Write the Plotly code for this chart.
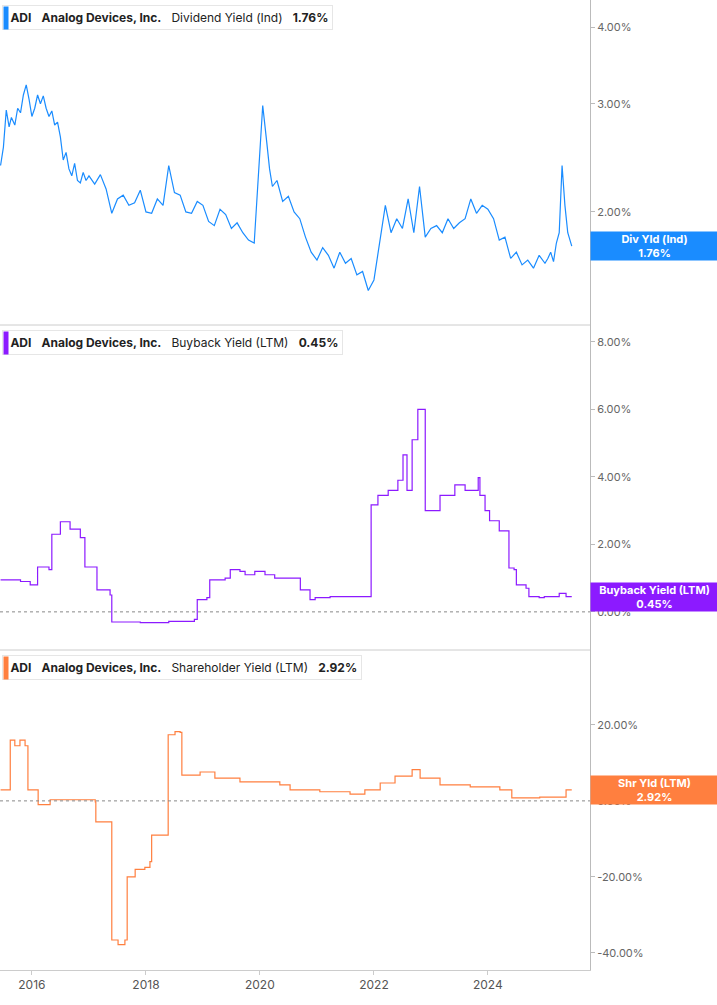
import plotly.graph_objects as go
from plotly.subplots import make_subplots
from datetime import datetime, timedelta

def to_date(y):
    yr = int(y); start = datetime(yr, 1, 1)
    return start + timedelta(days=(y - yr) * 365.25)

# Dividend yield (Ind), %
div_t = [2015.45,2015.5,2015.55,2015.6,2015.64,2015.7,2015.75,2015.8,2015.85,2015.9,2015.95,2016.0,2016.05,2016.1,2016.15,2016.2,2016.25,2016.3,2016.35,2016.4,2016.45,2016.5,2016.55,2016.6,2016.65,2016.7,2016.75,2016.8,2016.85,2016.9,2016.95,2017.0,2017.1,2017.2,2017.3,2017.4,2017.5,2017.6,2017.7,2017.8,2017.9,2018.0,2018.1,2018.2,2018.3,2018.4,2018.5,2018.6,2018.7,2018.8,2018.9,2019.0,2019.1,2019.2,2019.3,2019.4,2019.5,2019.6,2019.7,2019.8,2019.9,2020.0,2020.05,2020.12,2020.17,2020.22,2020.3,2020.4,2020.5,2020.6,2020.7,2020.8,2020.9,2021.0,2021.1,2021.2,2021.3,2021.4,2021.5,2021.6,2021.7,2021.8,2021.9,2022.0,2022.1,2022.2,2022.3,2022.4,2022.5,2022.6,2022.7,2022.8,2022.9,2023.0,2023.1,2023.2,2023.3,2023.4,2023.5,2023.6,2023.7,2023.8,2023.9,2024.0,2024.1,2024.2,2024.3,2024.4,2024.5,2024.6,2024.7,2024.8,2024.9,2025.0,2025.05,2025.1,2025.15,2025.2,2025.25,2025.3,2025.35,2025.4,2025.47]
div_v = [2.38,2.55,2.93,2.75,2.85,2.77,2.95,2.9,3.1,3.22,3.05,2.86,2.95,3.1,3.0,3.09,2.95,2.86,2.92,2.77,2.8,2.65,2.43,2.5,2.35,2.29,2.4,2.25,2.23,2.32,2.25,2.29,2.22,2.3,2.18,1.99,2.1,2.13,2.05,2.07,2.17,2.0,1.99,2.1,2.05,2.38,2.15,2.13,2.0,1.99,2.08,2.05,1.93,1.9,2.02,1.98,1.88,1.92,1.85,1.80,1.78,2.52,2.98,2.6,2.35,2.2,2.25,2.08,2.12,2.0,1.95,1.82,1.72,1.67,1.75,1.7,1.62,1.72,1.65,1.68,1.58,1.6,1.49,1.55,1.78,2.05,1.85,1.95,1.88,2.1,1.85,2.2,1.82,1.88,1.9,1.85,1.95,1.88,1.92,1.95,2.1,1.99,2.05,2.02,1.95,1.8,1.82,1.68,1.72,1.64,1.67,1.62,1.7,1.65,1.68,1.72,1.66,1.78,1.85,2.38,2.05,1.85,1.76]

# Buyback yield (LTM), %
bb_t = [2015.45,2015.8,2015.97,2016.1,2016.3,2016.35,2016.5,2016.67,2016.85,2016.93,2017.1,2017.14,2017.37,2017.4,2017.9,2018.4,2018.85,2018.9,2019.07,2019.12,2019.39,2019.48,2019.65,2019.74,2019.91,2020.09,2020.26,2020.53,2020.71,2020.88,2020.97,2021.23,2021.49,2021.67,2021.9,2021.95,2022.07,2022.25,2022.42,2022.51,2022.58,2022.67,2022.77,2022.84,2022.9,2023.12,2023.16,2023.42,2023.6,2023.83,2023.86,2023.95,2024.03,2024.2,2024.37,2024.46,2024.5,2024.67,2024.72,2024.9,2024.99,2025.25,2025.37,2025.47]
bb_v = [0.95,0.9,0.8,1.33,1.25,2.3,2.67,2.45,2.2,1.33,1.33,0.65,0.5,-0.3,-0.32,-0.28,-0.22,0.36,0.42,0.95,1.0,1.25,1.2,1.1,1.2,1.1,1.0,1.0,0.65,0.36,0.42,0.45,0.45,0.45,0.45,3.17,3.45,3.6,3.9,4.65,3.6,5.1,6.0,6.0,3.0,3.0,3.45,3.76,3.6,3.98,3.45,3.0,2.7,2.4,1.3,1.25,0.8,0.7,0.45,0.42,0.45,0.55,0.45,0.45]

# Shareholder yield (LTM), %
sh_t = [2015.45,2015.58,2015.62,2015.7,2015.79,2015.88,2015.93,2016.05,2016.11,2016.32,2016.85,2017.11,2017.12,2017.37,2017.4,2017.51,2017.63,2017.67,2017.81,2017.98,2018.07,2018.1,2018.33,2018.39,2018.51,2018.6,2018.63,2018.95,2019.21,2019.65,2020.0,2020.35,2020.53,2021.05,2021.58,2021.84,2022.11,2022.37,2022.67,2022.81,2023.16,2023.69,2024.21,2024.42,2024.91,2025.33,2025.37,2025.47]
sh_v = [2.9,2.9,16.0,14.5,16.0,14.5,2.9,2.9,-1.0,0.3,0.3,-0.3,-5.5,-5.5,-36.6,-37.8,-36.6,-20.0,-18.0,-17.5,-16.0,-9.0,-9.0,17.4,18.2,18.0,6.8,7.6,6.0,5.0,5.0,4.2,2.9,2.4,1.8,2.9,4.7,6.5,8.2,6.0,4.2,3.7,2.9,0.8,1.0,1.0,2.92,2.92]

fig = make_subplots(rows=3, cols=1, shared_xaxes=True, vertical_spacing=0.0)
blue, purple, orange = "#1a8cff", "#8c1aff", "#ff7f3f"
fig.add_trace(go.Scatter(x=[to_date(t) for t in div_t], y=div_v, mode="lines", line=dict(color=blue, width=1.2)), 1, 1)
fig.add_trace(go.Scatter(x=[to_date(t) for t in bb_t], y=bb_v, mode="lines", line=dict(color=purple, width=1.2, shape="hv")), 2, 1)
fig.add_trace(go.Scatter(x=[to_date(t) for t in sh_t], y=sh_v, mode="lines", line=dict(color=orange, width=1.2, shape="hv")), 3, 1)

H = 970
d1 = [1 - 325/H, 1]; d2 = [1 - 650/H, 1 - 325/H]; d3 = [0, 1 - 650/H]
tickfont = dict(family="Inter", size=11, color="#666")
common = dict(side="right", showgrid=False, zeroline=False, showline=True, linecolor="#bbb", tickfont=tickfont, ticks="outside", ticklen=4, tickcolor="#bbb")
fig.update_layout(
    yaxis=dict(domain=d1, type="log", range=[0.117, 0.646], tickvals=[2, 3, 4], ticktext=["2.00%", "3.00%", "4.00%"], **common),
    yaxis2=dict(domain=d2, range=[-1.13, 8.5], tickvals=[0, 2, 4, 6, 8], ticktext=["0.00%", "2.00%", "4.00%", "6.00%", "8.00%"], **common),
    yaxis3=dict(domain=d3, range=[-44.5, 39.7], tickvals=[-40, -20, 0, 20], ticktext=["-40.00%", "-20.00%", "0.00%", "20.00%"], **common),
)
xr = [to_date(2015.44), to_date(2025.79)]
for ax in ["xaxis", "xaxis2", "xaxis3"]:
    fig.layout[ax].update(range=xr, showgrid=False, zeroline=False, showline=False)
fig.layout.xaxis3.update(tickvals=[datetime(y, 1, 1) for y in [2016, 2018, 2020, 2022, 2024]], ticktext=["2016", "2018", "2020", "2022", "2024"],
                         tickfont=dict(family="Inter", size=12, color="#555"), showline=True, linecolor="#ccc", ticks="outside", tickcolor="#ccc", ticklen=4)

shapes = []
for yp in [1 - 325/H, 1 - 650/H]:
    shapes.append(dict(type="line", xref="paper", yref="paper", x0=0, x1=1, y0=yp, y1=yp, line=dict(color="#ccc", width=1)))
for yr in ["y2", "y3"]:
    shapes.append(dict(type="line", xref="paper", yref=yr, x0=0, x1=1, y0=0, y1=0, line=dict(color="#888", width=1, dash="dot")))
fig.update_layout(shapes=shapes)

anns = []
legs = [(d1[1], blue, "Dividend Yield (Ind)", "1.76%"),
        (d2[1], purple, "Buyback Yield (LTM)", "0.45%"),
        (d3[1], orange, "Shareholder Yield (LTM)", "2.92%")]
for top, col, name, val in legs:
    anns.append(dict(xref="paper", yref="paper", x=0.004, y=top - 5/H, xanchor="left", yanchor="top", showarrow=False,
                     text=f" <b>ADI</b>   <b>Analog Devices, Inc.</b>   {name}   <b>{val}</b>", font=dict(family="Inter", size=12, color="#222"),
                     bgcolor="white", bordercolor="#e6e6e6", borderwidth=1, borderpad=4))
    anns.append(dict(xref="paper", yref="paper", x=0.005, y=top - 6/H, xanchor="left", yanchor="top", showarrow=False,
                     text=" ", bgcolor=col, width=2, height=20, font=dict(size=12)))
boxes = [("y", 1.76, blue, "Div Yld (Ind)", "1.76%"), ("y2", 0.45, purple, "Buyback Yield (LTM)", "0.45%"), ("y3", 2.92, orange, "Shr Yld (LTM)", "2.92%")]
for yr, v, col, name, val in boxes:
    yy = 0.2455 if yr == "y" else v
    anns.append(dict(xref="paper", yref=yr, x=1.0, y=yy, xanchor="left", yanchor="middle", showarrow=False,
                     text=f"<b>{name}</b><br><b>{val}</b>", font=dict(family="Inter", size=11, color="white"),
                     bgcolor=col, width=125, height=26, align="center", borderpad=1))
fig.update_layout(annotations=anns)
fig.update_layout(width=717, height=1005, margin=dict(l=0, r=127, t=0, b=35), showlegend=False,
                  plot_bgcolor="white", paper_bgcolor="white")
fig.write_html("out.html", post_script="document.body.style.margin='0';", config={"displayModeBar": False})
